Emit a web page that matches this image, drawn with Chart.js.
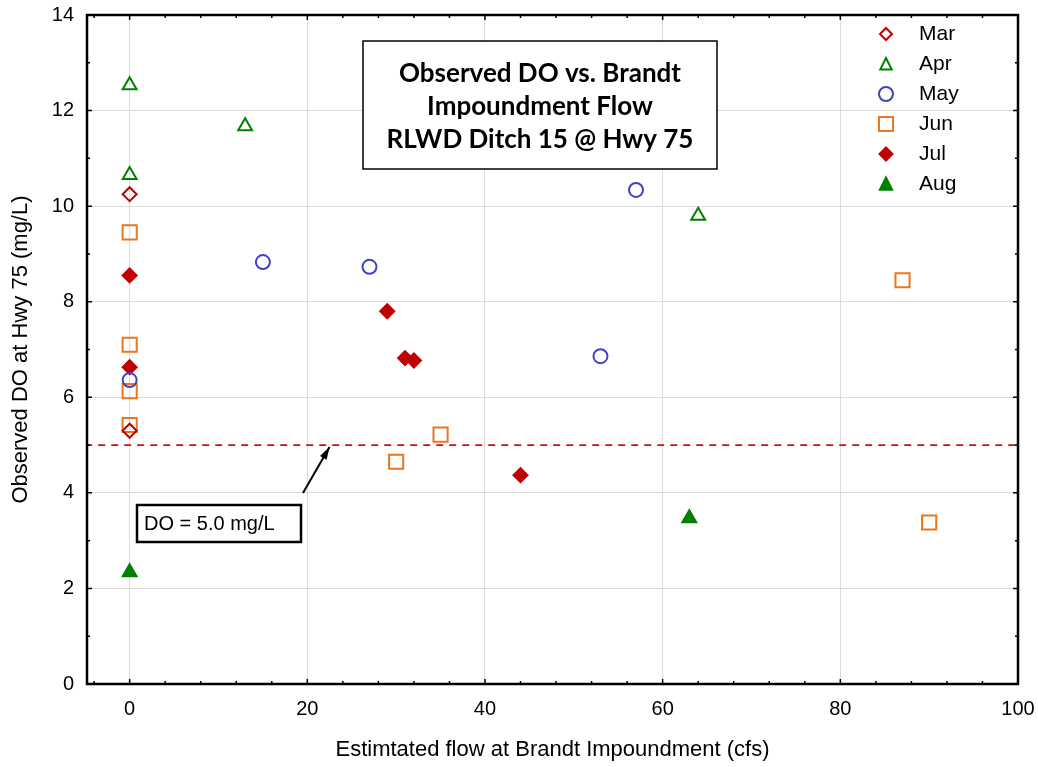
<!DOCTYPE html>
<html>
<head>
<meta charset="utf-8">
<script src="https://cdn.jsdelivr.net/npm/chart.js@4/dist/chart.umd.min.js"></script>
<style>
  html, body { margin: 0; padding: 0; background: #fff; }
  #wrap { width: 1038px; height: 767px; }
</style>
</head>
<body>
<div id="wrap"><canvas id="do-chart" width="1038" height="767"></canvas></div>
<script>
// flow (cfs) and observed DO (mg/L), one pair list per month
var marFlow = [0, 0];
var marDO   = [10.25, 5.3];
var aprFlow = [0, 0, 13, 64];
var aprDO   = [12.53, 10.65, 11.67, 9.8];
var mayFlow = [0, 15, 27, 57, 53];
var mayDO   = [6.36, 8.83, 8.73, 10.34, 6.86];
var junFlow = [0, 0, 0, 0, 30, 35, 87, 90];
var junDO   = [9.45, 7.1, 6.13, 5.42, 4.65, 5.22, 8.45, 3.38];
var julFlow = [0, 0, 29, 31, 32, 44];
var julDO   = [8.55, 6.63, 7.8, 6.82, 6.77, 4.37];
var augFlow = [0, 63];
var augDO   = [2.34, 3.47];

var xTicks = [0, 20, 40, 60, 80, 100];
var yTicks = [0, 2, 4, 6, 8, 10, 12, 14];
var doStandard = 5.0;
var standardLabel = 'DO = 5.0 mg/L';
var arrowFlow = 22.5;
var titleLines = ['Observed DO vs. Brandt', 'Impoundment Flow', 'RLWD Ditch 15 @ Hwy 75'];

function pairs(xs, ys) {
  return xs.map(function (x, i) { return { x: x, y: ys[i] }; });
}

// r is the chart.js point radius, lr the legend marker half size
var months = [
  { label: 'Mar', xs: marFlow, ys: marDO, style: 'rectRot',  color: '#c00000', fill: false, r: 7,   lr: 6 },
  { label: 'Apr', xs: aprFlow, ys: aprDO, style: 'triangle', color: '#008000', fill: false, r: 8,   lr: 6 },
  { label: 'May', xs: mayFlow, ys: mayDO, style: 'circle',   color: '#4040c8', fill: false, r: 7,   lr: 7 },
  { label: 'Jun', xs: junFlow, ys: junDO, style: 'rect',     color: '#e87722', fill: false, r: 10,  lr: 7 },
  { label: 'Jul', xs: julFlow, ys: julDO, style: 'rectRot',  color: '#c00000', fill: true,  r: 7,   lr: 6.5 },
  { label: 'Aug', xs: augFlow, ys: augDO, style: 'triangle', color: '#008000', fill: true,  r: 8,   lr: 6.5 }
];

var datasets = months.map(function (m) {
  return {
    type: 'scatter',
    label: m.label,
    data: pairs(m.xs, m.ys),
    pointStyle: m.style,
    pointRadius: m.r,
    pointHoverRadius: m.r,
    pointBorderWidth: 2,
    borderColor: m.color,
    backgroundColor: m.fill ? m.color : 'rgba(255,255,255,0)',
    order: 1
  };
});

datasets.unshift({
  type: 'line',
  label: 'DO standard',
  data: [{ x: -5, y: doStandard }, { x: 100, y: doStandard }],
  borderColor: '#d01010',
  borderWidth: 1.8,
  borderDash: [7, 6],
  pointRadius: 0,
  fill: false,
  order: 2
});

var extras = {
  id: 'extras',
  afterDraw: function (chart) {
    var ctx = chart.ctx;
    var a = chart.chartArea;
    var xs = chart.scales.x, ys = chart.scales.y;
    ctx.save();

    // frame
    ctx.strokeStyle = '#000';
    ctx.lineWidth = 2.5;
    ctx.strokeRect(a.left, a.top, a.right - a.left, a.bottom - a.top);

    // inward tick marks
    ctx.lineWidth = 1.5;
    ctx.beginPath();
    for (var v = -4; v <= 100; v += 4) {
      var px = xs.getPixelForValue(v);
      var len = (v % 20 === 0) ? 5 : 3;
      ctx.moveTo(px, a.bottom); ctx.lineTo(px, a.bottom - len);
      ctx.moveTo(px, a.top); ctx.lineTo(px, a.top + len);
    }
    for (var w = 0; w <= 14; w += 1) {
      var py = ys.getPixelForValue(w);
      var l2 = (w % 2 === 0) ? 5 : 3;
      ctx.moveTo(a.left, py); ctx.lineTo(a.left + l2, py);
      ctx.moveTo(a.right, py); ctx.lineTo(a.right - l2, py);
    }
    ctx.stroke();

    // title box
    ctx.fillStyle = '#fff';
    ctx.fillRect(363, 41, 354, 128);
    ctx.strokeStyle = '#000';
    ctx.lineWidth = 1.5;
    ctx.strokeRect(363, 41, 354, 128);
    ctx.fillStyle = '#000';
    ctx.font = 'bold 26px Lato, "Open Sans", sans-serif';
    ctx.textAlign = 'center';
    ctx.textBaseline = 'middle';
    titleLines.forEach(function (t, i) {
      ctx.fillText(t, 540, 74 + i * 33);
    });

    // annotation box and arrow
    var tipX = xs.getPixelForValue(arrowFlow);
    var tipY = ys.getPixelForValue(doStandard) + 2;
    ctx.strokeStyle = '#000';
    ctx.lineWidth = 2;
    ctx.beginPath();
    ctx.moveTo(303, 493);
    ctx.lineTo(tipX, tipY);
    ctx.stroke();
    var ang = Math.atan2(tipY - 493, tipX - 303);
    ctx.fillStyle = '#000';
    ctx.beginPath();
    ctx.moveTo(tipX, tipY);
    ctx.lineTo(tipX - 13 * Math.cos(ang - 0.3), tipY - 13 * Math.sin(ang - 0.3));
    ctx.lineTo(tipX - 13 * Math.cos(ang + 0.3), tipY - 13 * Math.sin(ang + 0.3));
    ctx.closePath();
    ctx.fill();

    ctx.fillStyle = '#fff';
    ctx.fillRect(137, 505, 164, 37);
    ctx.lineWidth = 2.5;
    ctx.strokeRect(137, 505, 164, 37);
    ctx.fillStyle = '#000';
    ctx.font = '20px "Liberation Sans", Arial, sans-serif';
    ctx.textAlign = 'left';
    ctx.fillText(standardLabel, 144, 524);

    // legend, inside the plot top right
    ctx.font = '21px "Liberation Sans", Arial, sans-serif';
    months.forEach(function (m, i) {
      var ly = 34 + i * 30;
      var lx = 886;
      ctx.fillStyle = '#000';
      ctx.textAlign = 'left';
      ctx.fillText(m.label, 919, ly);
      ctx.lineWidth = 2;
      ctx.strokeStyle = m.color;
      ctx.fillStyle = m.fill ? m.color : '#fff';
      var r = m.lr;
      ctx.beginPath();
      if (m.style === 'rectRot') {
        ctx.moveTo(lx, ly - r); ctx.lineTo(lx + r, ly); ctx.lineTo(lx, ly + r); ctx.lineTo(lx - r, ly);
      } else if (m.style === 'triangle') {
        ctx.moveTo(lx, ly - r); ctx.lineTo(lx + r * 0.95, ly + r * 0.9); ctx.lineTo(lx - r * 0.95, ly + r * 0.9);
      } else if (m.style === 'circle') {
        ctx.arc(lx, ly, r, 0, Math.PI * 2);
      } else {
        ctx.rect(lx - r, ly - r, 2 * r, 2 * r);
      }
      ctx.closePath();
      if (m.fill) ctx.fill();
      ctx.stroke();
    });
    ctx.restore();
  }
};

var tickFont = { family: '"Liberation Sans", Arial, sans-serif', size: 20 };
var titleFont = { family: '"Liberation Sans", Arial, sans-serif', size: 22 };

var doChart = new Chart(document.getElementById('do-chart'), {
  type: 'scatter',
  data: { datasets: datasets },
  options: {
    responsive: false,
    animation: false,
    layout: { autoPadding: false, padding: { top: 15, right: 20, left: 0, bottom: 0 } },
    plugins: {
      legend: { display: false },
      tooltip: { enabled: false }
    },
    scales: {
      x: {
        type: 'linear',
        min: -4.8,
        max: 100,
        afterBuildTicks: function (s) { s.ticks = xTicks.map(function (v) { return { value: v }; }); },
        afterFit: function (s) {
          s.height = 83;
          s.paddingLeft = 0; s.paddingRight = 0;
        },
        grid: { color: '#dcdcdc', lineWidth: 1, drawTicks: false },
        border: { color: '#000', width: 2 },
        ticks: { color: '#000', font: tickFont, padding: 13 },
        title: { display: true, text: 'Estimtated flow at Brandt Impoundment (cfs)', color: '#000', font: titleFont, padding: { top: 15 } }
      },
      y: {
        type: 'linear',
        min: 0,
        max: 14,
        afterBuildTicks: function (s) { s.ticks = yTicks.map(function (v) { return { value: v }; }); },
        afterFit: function (s) {
          s.width = 87;
          s.paddingTop = 0; s.paddingBottom = 0;
        },
        grid: { color: '#dcdcdc', lineWidth: 1, drawTicks: false },
        border: { color: '#000', width: 2 },
        ticks: { color: '#000', font: tickFont, padding: 13 },
        title: { display: true, text: 'Observed DO at Hwy 75 (mg/L)', color: '#000', font: titleFont, padding: { top: 8, bottom: 4 } }
      }
    }
  },
  plugins: [extras]
});
</script>
</body>
</html>
